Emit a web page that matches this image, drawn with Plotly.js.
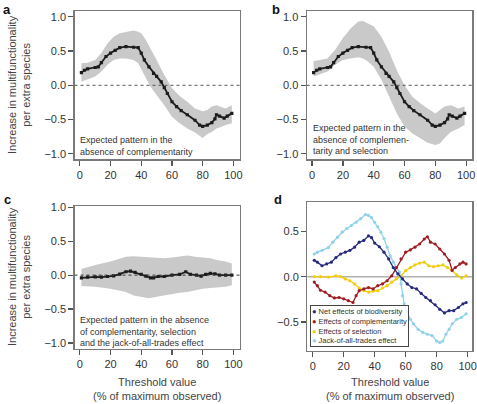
<!DOCTYPE html>
<html>
<head>
<meta charset="utf-8">
<script src="https://cdn.plot.ly/plotly-3.0.1.min.js"></script>
<style>html,body{margin:0;padding:0;background:#fff;}#chart{width:477px;height:404px;}</style>
</head>
<body>
<div id="chart"></div>
<script>
// ---------- DATA ----------
// Panels a and b: mean line (same in both)
const abX = [1,3,5,10,12,14,17,20,23,26,30,35,38,40,42,45,48,50,53,55,57,60,63,66,70,75,78,80,83,86,88,89,91,94,96,99];
const abMean = [0.185,0.22,0.24,0.26,0.27,0.33,0.42,0.47,0.51,0.55,0.565,0.555,0.55,0.47,0.37,0.27,0.175,0.13,0.05,-0.035,-0.12,-0.24,-0.31,-0.37,-0.43,-0.51,-0.58,-0.60,-0.58,-0.545,-0.49,-0.43,-0.45,-0.48,-0.45,-0.41];
// Panel a band
const aBandX = [1,5,10,14,18,22,26,30,35,38,40,43,46,50,55,60,65,70,75,80,83,86,89,92,95,99];
const aUpper = [0.32,0.33,0.37,0.47,0.61,0.71,0.76,0.78,0.80,0.78,0.76,0.66,0.54,0.37,0.15,-0.04,-0.155,-0.24,-0.34,-0.38,-0.36,-0.31,-0.29,-0.31,-0.34,-0.29];
const aLower = [0.05,0.09,0.13,0.20,0.30,0.37,0.39,0.39,0.37,0.32,0.23,0.10,-0.02,-0.14,-0.29,-0.46,-0.555,-0.63,-0.69,-0.77,-0.71,-0.68,-0.63,-0.61,-0.58,-0.555];
// Panel b band
const bBandX = [1,10,15,20,25,30,33,36,40,45,50,55,60,65,70,75,80,83,86,90,95,99];
const bUpper = [0.35,0.39,0.52,0.69,0.83,0.93,0.94,0.905,0.86,0.71,0.49,0.22,0.0,-0.165,-0.26,-0.34,-0.41,-0.36,-0.31,-0.29,-0.34,-0.31];
const bLower = [0.13,0.20,0.30,0.37,0.39,0.41,0.39,0.35,0.27,0.08,-0.165,-0.41,-0.60,-0.70,-0.77,-0.84,-0.87,-0.85,-0.77,-0.68,-0.63,-0.58];
// Panel c
const cX = [1,5,10,14,18,22,26,30,33,36,40,43,46,48,51,55,60,65,69,72,76,79,82,85,88,91,95,99];
const cMean = [-0.04,-0.03,-0.025,-0.03,-0.02,-0.01,0.015,0.05,0.06,0.04,0.01,-0.015,-0.04,-0.04,-0.02,-0.02,0.0,0.01,0.05,0.01,0.0,-0.015,0.01,0.025,0.02,0.0,0.0,0.0];
const cBandX = [1,10,20,30,35,40,45,50,55,60,65,70,75,80,85,90,95,99];
const cUpper = [0.09,0.15,0.20,0.27,0.28,0.27,0.26,0.25,0.25,0.26,0.27,0.29,0.27,0.26,0.25,0.22,0.20,0.17];
const cLower = [-0.16,-0.17,-0.20,-0.25,-0.30,-0.32,-0.34,-0.32,-0.30,-0.27,-0.26,-0.25,-0.22,-0.20,-0.19,-0.18,-0.17,-0.15];
// Panel d
const dNetX = [1,3,6,9,12,15,18,21,24,27,30,33,36,38,40,43,46,49,52,55,58,61,64,67,70,73,76,79,82,85,88,91,94,97,99];
const dNet = [0.18,0.16,0.12,0.14,0.16,0.21,0.25,0.27,0.29,0.325,0.38,0.40,0.45,0.43,0.37,0.33,0.27,0.195,0.10,0.03,-0.025,-0.08,-0.12,-0.135,-0.185,-0.23,-0.265,-0.31,-0.36,-0.40,-0.375,-0.375,-0.34,-0.30,-0.285];
const dCompX = [1,3,5,8,11,14,17,20,23,26,28,30,33,36,39,42,45,48,51,54,57,60,63,66,69,72,74,76,79,82,85,88,90,92,95,97,99];
const dComp = [-0.06,-0.10,-0.15,-0.17,-0.21,-0.235,-0.23,-0.245,-0.265,-0.285,-0.21,-0.155,-0.135,-0.12,-0.135,-0.10,-0.08,-0.045,0.01,0.10,0.195,0.27,0.295,0.325,0.36,0.415,0.44,0.38,0.36,0.305,0.25,0.18,0.07,0.10,0.14,0.16,0.14];
const dSelX = [1,5,10,15,18,21,24,27,30,33,36,39,42,45,48,51,54,57,60,63,66,69,72,75,78,81,84,87,90,93,96,99];
const dSel = [0.0,0.0,-0.005,0.01,0.0,-0.025,-0.045,-0.08,-0.125,-0.155,-0.17,-0.16,-0.155,-0.125,-0.10,-0.06,-0.025,0.01,0.066,0.10,0.13,0.15,0.16,0.12,0.11,0.12,0.13,0.10,0.066,0.02,-0.015,0.01];
const dJackX = [1,3,6,10,13,16,19,22,25,28,31,34,36,38,40,42,44,46,48,50,52,54,56,57,58,59,61,63,65,68,71,74,77,80,82,84,86,88,90,93,96,99];
const dJack = [0.25,0.27,0.29,0.32,0.38,0.435,0.49,0.53,0.565,0.60,0.64,0.685,0.675,0.65,0.60,0.55,0.49,0.42,0.325,0.23,0.16,0.10,0.05,-0.08,-0.21,-0.30,-0.395,-0.47,-0.52,-0.58,-0.615,-0.635,-0.65,-0.71,-0.727,-0.71,-0.635,-0.58,-0.52,-0.47,-0.45,-0.41];
const seriesNames = ['Net effects of biodiversity','Effects of complementarity','Effects of selection','Jack-of-all-trades effect'];
const xTicks = [0,20,40,60,80,100];
const yTicksABC = [-1,-0.5,0,0.5,1];
const yTicksD = [-0.5,0,0.5];
const notes = {
  a: 'Expected pattern in the<br>absence of complementarity',
  b: 'Expected pattern in the<br>absence of complemen-<br>tarity and selection',
  c: 'Expected pattern in the absence<br>of complementarity, selection<br>and the jack-of-all-trades effect'
};
const yTitle = 'Increase in multifunctionality<br>per extra species';
const xTitle = 'Threshold value<br>(% of maximum observed)';

// ---------- STYLE / LAYOUT ----------
const W = 477, H = 404;
const FONT = 'Liberation Sans, Arial, Helvetica, sans-serif';
const px = x => x / W;
const py = y => 1 - y / H;
const BAND = '#c9c9c9';
const COLORS = ['#262a7e', '#9c1d23', '#f3cc0c', '#8fd2ea'];

function band(x, lo, hi, xa, ya) {
  return [
    {x: x, y: lo, xaxis: xa, yaxis: ya, mode: 'lines', line: {width: 0, color: BAND}, hoverinfo: 'skip', showlegend: false},
    {x: x, y: hi, xaxis: xa, yaxis: ya, mode: 'lines', line: {width: 0, color: BAND}, fill: 'tonexty', fillcolor: BAND, hoverinfo: 'skip', showlegend: false}
  ];
}
function meanLine(x, y, xa, ya) {
  return {x: x, y: y, xaxis: xa, yaxis: ya, mode: 'lines+markers',
    line: {color: '#1c1c1c', width: 1.8}, marker: {color: '#1c1c1c', size: 3.2, symbol: 'square'}, showlegend: false};
}
function colorLine(x, y, i) {
  return {x: x, y: y, xaxis: 'x4', yaxis: 'y4', mode: 'lines+markers', name: seriesNames[i],
    line: {color: COLORS[i], width: 1.3}, marker: {color: COLORS[i], size: 3.2}, showlegend: false};
}

const traces = [].concat(
  band(aBandX, aLower, aUpper, 'x', 'y'), [meanLine(abX, abMean, 'x', 'y')],
  band(bBandX, bLower, bUpper, 'x2', 'y2'), [meanLine(abX, abMean, 'x2', 'y2')],
  band(cBandX, cLower, cUpper, 'x3', 'y3'), [meanLine(cX, cMean, 'x3', 'y3')],
  [colorLine(dSelX, dSel, 2), colorLine(dJackX, dJack, 3), colorLine(dCompX, dComp, 1), colorLine(dNetX, dNet, 0)]
);

function xAxis(l, r, anchor, range) {
  return {domain: [px(l), px(r)], anchor: anchor, range: range, tickvals: xTicks,
    showline: true, mirror: true, linecolor: '#7a7a7a', linewidth: 1.2,
    ticks: 'outside', ticklen: 5, tickwidth: 1.2, tickcolor: '#555',
    showgrid: false, zeroline: false, tickfont: {family: FONT, size: 11, color: '#333'}};
}
function yAxis(t, b, anchor, range, ticks) {
  return {domain: [py(b), py(t)], anchor: anchor, range: range, tickvals: ticks, tickformat: '.1f',
    showline: true, mirror: true, linecolor: '#7a7a7a', linewidth: 1.2,
    ticks: 'outside', ticklen: 5, tickwidth: 1.2, tickcolor: '#555',
    showgrid: false, zeroline: false, tickfont: {family: FONT, size: 11, color: '#333'}};
}
function ann(text, x, y, opts) {
  return Object.assign({text: text, x: px(x), y: py(y), xref: 'paper', yref: 'paper',
    xanchor: 'center', yanchor: 'middle', showarrow: false}, opts);
}

const rABC = [-3.5, 104];
const layout = {
  width: W, height: H, margin: {l: 0, r: 0, t: 0, b: 0},
  paper_bgcolor: '#fff', plot_bgcolor: '#fff', showlegend: false,
  font: {family: FONT, color: '#333'},
  xaxis:  xAxis(74.5, 239.5, 'y', rABC),
  yaxis:  yAxis(11.3, 159.3, 'x', [-1.08, 1.08], yTicksABC),
  xaxis2: xAxis(306.7, 472.3, 'y2', rABC),
  yaxis2: yAxis(11.3, 159.3, 'x2', [-1.08, 1.08], yTicksABC),
  xaxis3: xAxis(74.5, 239.5, 'y3', rABC),
  yaxis3: yAxis(206, 349, 'x3', [-1.09, 1.02], yTicksABC),
  xaxis4: xAxis(307.3, 472.3, 'y4', [-3.5, 103]),
  yaxis4: yAxis(202.3, 351, 'x4', [-0.82, 0.82], yTicksD),
  shapes: [
    {type: 'line', xref: 'x domain', yref: 'y', x0: 0, x1: 1, y0: 0, y1: 0, line: {color: '#555', width: 1, dash: 'dot'}},
    {type: 'line', xref: 'x2 domain', yref: 'y2', x0: 0, x1: 1, y0: 0, y1: 0, line: {color: '#555', width: 1, dash: 'dot'}},
    {type: 'line', xref: 'x3 domain', yref: 'y3', x0: 0, x1: 1, y0: 0, y1: 0, line: {color: '#333', width: 1, dash: 'dot'}},
    {type: 'line', xref: 'x4 domain', yref: 'y4', x0: 0, x1: 1, y0: 0, y1: 0, layer: 'below', line: {color: '#b0b0b0', width: 1.5}}
  ],
  annotations: [
    ann('<b>a</b>', 7, 9, {font: {size: 13, color: '#111'}}),
    ann('<b>b</b>', 276, 9, {font: {size: 13, color: '#111'}}),
    ann('<b>c</b>', 7, 199, {font: {size: 13, color: '#111'}}),
    ann('<b>d</b>', 278, 199, {font: {size: 13, color: '#111'}}),
    ann(yTitle, 19, 85, {textangle: -90, font: {size: 11, color: '#444'}}),
    ann(yTitle, 19, 277, {textangle: -90, font: {size: 11, color: '#444'}}),
    ann(xTitle, 157, 388.5, {font: {size: 11, color: '#444'}}),
    ann(xTitle, 390, 388.5, {font: {size: 11, color: '#444'}}),
    ann(notes.a, 78, 145.5, {xanchor: 'left', align: 'left', font: {size: 9, color: '#333'}}),
    ann(notes.b, 311, 139, {xanchor: 'left', align: 'left', font: {size: 9, color: '#333'}}),
    ann(notes.c, 78, 331.5, {xanchor: 'left', align: 'left', font: {size: 9, color: '#333'}}),
    ann(seriesNames.map((n, i) => '<span style="color:' + COLORS[i] + '">●</span> ' + n).join('<br>'),
      309.5, 347, {xanchor: 'left', yanchor: 'bottom', align: 'left',
      bordercolor: '#444', borderwidth: 1, borderpad: 1, bgcolor: 'rgba(255,255,255,0.85)',
      font: {size: 7.5, color: '#333'}})
  ]
};

Plotly.newPlot('chart', traces, layout, {staticPlot: true, displayModeBar: false});
</script>
</body>
</html>
